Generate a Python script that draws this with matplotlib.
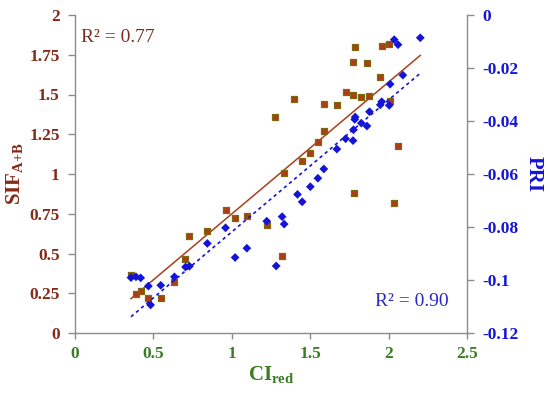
import matplotlib

matplotlib.use("Agg")
import matplotlib.pyplot as plt  # noqa: E402
import numpy as np  # noqa: E402

plt.rcParams["font.family"] = ["Liberation Serif", "DejaVu Serif"]
plt.rcParams["mathtext.fontset"] = "custom"
plt.rcParams["mathtext.rm"] = "Liberation Serif"
plt.rcParams["mathtext.bf"] = "Liberation Serif:bold"

# SIF (A+B) vs CIred  -- brown squares, left axis
ci_sif = [0.357, 0.419, 0.389, 0.468, 0.547, 0.634, 0.702, 0.729, 0.844, 0.960,
          1.021, 1.096, 1.223, 1.321, 1.334, 1.447, 1.501, 1.549, 1.587, 1.276,
          1.399, 1.587, 1.670, 1.726, 1.774, 1.824, 1.876, 2.010, 1.946, 1.776,
          1.863, 1.787, 1.957, 2.004, 2.059, 1.782, 2.036]
sif = [0.365, 0.262, 0.243, 0.222, 0.222, 0.323, 0.464, 0.612, 0.644, 0.772,
       0.722, 0.737, 0.677, 0.486, 1.005, 1.079, 1.132, 1.200, 1.272, 1.358,
       1.470, 1.440, 1.431, 1.516, 1.499, 1.486, 1.492, 1.457, 1.608, 1.705,
       1.697, 1.801, 1.805, 1.818, 1.178, 0.883, 0.816]

# PRI vs CIred  -- blue diamonds, right axis
ci_pri = [0.357, 0.389, 0.419, 0.468, 0.482, 0.547, 0.634, 0.705, 0.730, 0.844,
          0.960, 1.021, 1.096, 1.223, 1.283, 1.321, 1.334, 1.419, 1.449, 1.501,
          1.549, 1.587, 1.670, 1.726, 1.773, 1.776, 1.787, 1.784, 1.826, 1.862,
          1.878, 1.947, 1.956, 2.004, 2.010, 2.091, 2.036, 2.060, 2.202]
pri = [-0.0991, -0.0988, -0.0992, -0.1023, -0.1094, -0.1020, -0.0988, -0.0951,
       -0.0948, -0.0862, -0.0803, -0.0915, -0.0880, -0.0778, -0.0947, -0.0761,
       -0.0789, -0.0677, -0.0705, -0.0648, -0.0616, -0.0581, -0.0506, -0.0467,
       -0.0474, -0.0433, -0.0385, -0.0394, -0.0408, -0.0419, -0.0365, -0.0339,
       -0.0327, -0.0341, -0.0261, -0.0227, -0.0093, -0.0112, -0.0086]

x_ticks = [0, 0.5, 1, 1.5, 2, 2.5]
sif_ticks = [0, 0.25, 0.5, 0.75, 1, 1.25, 1.5, 1.75, 2]
pri_ticks = [-0.12, -0.1, -0.08, -0.06, -0.04, -0.02, 0]

RED = "#842a16"
LINE_RED = "#a8401c"
BLUE = "#1414d8"
GREEN = "#3a7d22"
GREY = "#8c8c8c"

fig = plt.figure(figsize=(5.5, 3.93), dpi=100)
ax = fig.add_axes([75 / 550, 60 / 393, 392 / 550, 318 / 393])
ax2 = ax.twinx()

ax.scatter(ci_sif, sif, marker="s", s=25, c="#b03c14", edgecolors="#7a6a12",
           linewidths=0.9, zorder=3)
ax2.scatter(ci_pri, pri, marker="D", s=20, c=BLUE, edgecolors="none", zorder=3)

# linear trend lines over the data range
xs = np.array([min(ci_sif), max(ci_pri)])
k1, b1 = np.polyfit(ci_sif, sif, 1)
ax.plot(xs, k1 * xs + b1, color=LINE_RED, lw=1.1, zorder=2)
k2, b2 = np.polyfit(ci_pri, pri, 1)
ax2.plot(xs, k2 * xs + b2, color=BLUE, lw=1.2, ls=(0, (2, 2)), zorder=2)

ax.set_xlim(0, 2.5)
ax.set_ylim(0, 2)
ax2.set_ylim(-0.12, 0)
ax.set_xticks(x_ticks)
ax.set_xticklabels([f"{v:g}" for v in x_ticks])
ax.set_yticks(sif_ticks)
ax.set_yticklabels([f"{v:g}" for v in sif_ticks])
ax2.set_yticks(pri_ticks)
ax2.set_yticklabels([f"{v:g}" for v in pri_ticks])

for a in (ax, ax2):
    a.spines["top"].set_visible(False)
    for s in ("left", "right", "bottom"):
        a.spines[s].set_color(GREY)
        a.spines[s].set_linewidth(1.0)
ax.spines["right"].set_visible(False)
ax2.spines["left"].set_visible(False)
ax2.spines["bottom"].set_visible(False)

ax.tick_params(axis="y", direction="out", length=5, width=1, color=GREY,
               labelsize=12.5, labelcolor=RED, pad=6)
ax.tick_params(axis="x", direction="out", length=4, width=1, color=GREY,
               labelsize=12.5, labelcolor=GREEN, pad=5)
ax2.tick_params(axis="y", direction="out", length=5, width=1, color=GREY,
                labelsize=12.5, labelcolor=BLUE, pad=6)
for lab in ax.get_xticklabels() + ax.get_yticklabels() + ax2.get_yticklabels():
    lab.set_fontweight("bold")

ax.set_ylabel(r"SIF$_{\mathbf{A{+}B}}$", color=RED, fontsize=15,
              fontweight="bold", labelpad=2)
ax2.set_ylabel("PRI", color=BLUE, fontsize=15, fontweight="bold",
               rotation=270, labelpad=18)
ax.set_xlabel(r"CI$_{\mathbf{red}}$", color=GREEN, fontsize=15,
              fontweight="bold", labelpad=2)

fig.text(81 / 550, 1 - 38 / 393, "R² = 0.77", color="#7b2e1e", fontsize=14,
         va="center", ha="left")
fig.text(449 / 550, 1 - 302 / 393, "R² = 0.90", color="#2828cc", fontsize=14,
         va="center", ha="right")

fig.savefig("out.png", dpi=100)
